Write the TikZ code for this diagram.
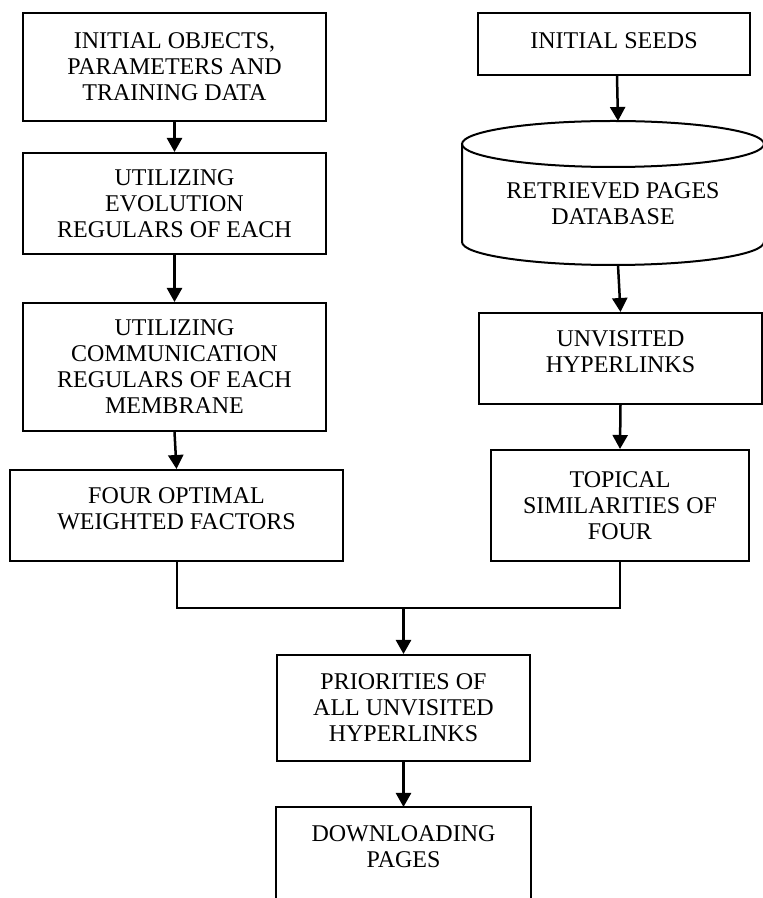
\documentclass[tikz,border=0pt]{standalone}
\usepackage{fontspec}
\setmainfont{Liberation Serif}
\usetikzlibrary{arrows.meta}

\begin{document}
\begin{tikzpicture}[x=1pt, y=1pt,
    box/.style={draw, line width=2pt, align=center, inner sep=0pt,
        font=\fontsize{24}{26}\selectfont},
    flow/.style={line width=2.5pt, -{Triangle[width=15pt, length=14pt]}},
    edge/.style={line width=2pt}]

    \useasboundingbox (0,0) rectangle (763,898);
    \clip (0,0) rectangle (763,898);

    % Left column
    \node[box, minimum width=303pt, minimum height=108pt] (objects) at (174.5,831)
        {INITIAL OBJECTS,\\PARAMETERS AND\\TRAINING DATA};
    \node[box, minimum width=303pt, minimum height=101pt] (evolution) at (174.5,694.5)
        {UTILIZING\\EVOLUTION\\REGULARS OF EACH};
    \node[box, minimum width=303pt, minimum height=128pt] (communication) at (174.5,531)
        {UTILIZING\\COMMUNICATION\\REGULARS OF EACH\\MEMBRANE};
    \node[box, minimum width=333pt, minimum height=91pt, text depth=14pt] (factors) at (176.5,382.5)
        {FOUR OPTIMAL\\WEIGHTED FACTORS};

    \draw[flow] (objects.south) -- (evolution.north);
    \draw[flow] (evolution.south) -- (communication.north);
    \draw[flow] (communication.south) -- (factors.north);

    % Right column
    \node[box, minimum width=272pt, minimum height=62pt, text depth=6pt] (seeds) at (614,854)
        {INITIAL SEEDS};

    % Database cylinder
    \node[box, draw=none, minimum width=302pt] (db) at (613,694)
        {RETRIEVED PAGES\\DATABASE};
    \coordinate (dbtop) at (618,777);
    \coordinate (dbbot) at (618,633);
    \draw[edge] (613,754) ellipse [x radius=151pt, y radius=23pt];
    \draw[edge] (462,754) -- (462,656)
        arc[start angle=180, end angle=360, x radius=151pt, y radius=23pt] -- (764,754);

    \node[box, minimum width=283pt, minimum height=91pt, text depth=14pt] (unvisited) at (620.5,539.5)
        {UNVISITED\\HYPERLINKS};
    \node[box, minimum width=258pt, minimum height=111pt] (topical) at (620,392.5)
        {TOPICAL\\SIMILARITIES OF\\FOUR};

    \draw[flow] ([xshift=3pt]seeds.south) -- (dbtop);
    \draw[flow] (dbbot) -- (unvisited.north);
    \draw[flow] (unvisited.south) -- (topical.north);

    % Merge and bottom steps
    \coordinate (join) at (403.5,290);
    \draw[edge] (factors.south) |- (join) -| (topical.south);

    \node[box, minimum width=253pt, minimum height=106pt] (priorities) at (403.5,190)
        {PRIORITIES OF\\ALL UNVISITED\\HYPERLINKS};
    \node[box, draw=none, minimum width=253pt, minimum height=77pt] (download) at (403.5,51.5)
        {DOWNLOADING\\PAGES};
    \draw[edge] ([yshift=-40pt]download.south west) -- (download.north west)
        -- (download.north east) -- ([yshift=-40pt]download.south east);

    \draw[flow] (join) -- (priorities.north);
    \draw[flow] (priorities.south) -- (download.north);

\end{tikzpicture}
\end{document}
